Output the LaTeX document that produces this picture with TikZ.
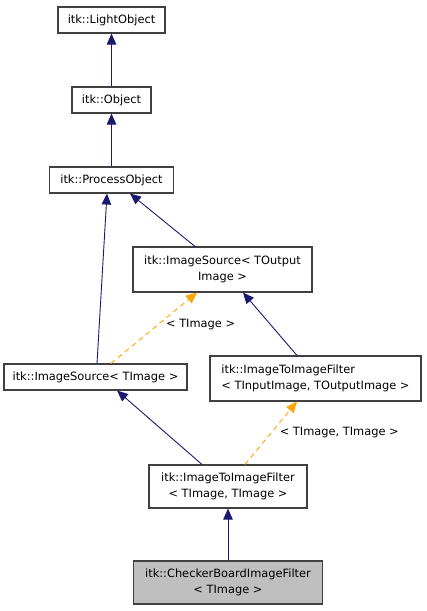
\documentclass[tikz,border=0pt]{standalone}
\usepackage{fontspec}
\setmainfont{DejaVu Sans}
\usetikzlibrary{arrows.meta}
\definecolor{edgeblue}{HTML}{191970}
\definecolor{tmplorange}{HTML}{FFA500}
\definecolor{boxgray}{HTML}{BFBFBF}

\begin{document}
\begin{tikzpicture}[x=1pt,y=-1pt,
  cls/.style={draw=black!75,line width=1.1pt,fill=white,inner sep=0pt,align=center,
    font=\fontsize{11.4}{16}\selectfont},
  inh/.style={edgeblue,line width=0.9pt,-{Triangle[length=11pt,width=9.5pt]}},
  tmpl/.style={tmplorange,line width=0.9pt,dash pattern=on 5pt off 4pt,-{Triangle[length=11pt,width=9.5pt]}},
  lbl/.style={text=black,font=\fontsize{11.4}{16}\selectfont}]
\useasboundingbox (0,0) rectangle (427,611);
\node[cls,minimum width=107pt,minimum height=26pt] (lo) at (111.5,20) {itk::LightObject};
\node[cls,minimum width=79pt,minimum height=26pt] (obj) at (111.5,100) {itk::Object};
\node[cls,minimum width=124pt,minimum height=26pt] (po) at (111.5,180) {itk::ProcessObject};
\node[cls,minimum width=179pt,minimum height=45pt] (isout) at (222.5,269.5) {itk::ImageSource< TOutput\\Image >};
\node[cls,minimum width=183pt,minimum height=26pt] (ist) at (95.5,377) {itk::ImageSource< TImage >};
\node[cls,minimum width=211pt,minimum height=45pt,align=left] (itito) at (315.5,378.5) {itk::ImageToImageFilter\\< TInputImage, TOutputImage >};
\node[cls,minimum width=158pt,minimum height=43pt] (itit) at (228,486.5) {itk::ImageToImageFilter\\< TImage, TImage >};
\node[cls,fill=boxgray,minimum width=189pt,minimum height=43pt] (cb) at (228,582.5) {itk::CheckerBoardImageFilter\\< TImage >};
\draw[inh] (obj.north) -- (lo.south);
\draw[inh] (po.north) -- (obj.south);
\draw[inh] ([xshift=1.5pt]ist.north) -- ([xshift=-4.5pt]po.south);
\draw[inh] ([xshift=-27.5pt]isout.north) -- ([xshift=18.5pt]po.south);
\draw[tmpl] ([xshift=15.5pt]ist.north) -- node[lbl,right,pos=0.55,xshift=4pt] {< TImage >} ([xshift=-25.5pt]isout.south);
\draw[inh] ([xshift=-18.5pt]itito.north) -- ([xshift=20.5pt]isout.south);
\draw[inh] ([xshift=-26pt]itit.north) -- ([xshift=21.5pt]ist.south);
\draw[tmpl] ([xshift=17pt]itit.north) -- node[lbl,right,pos=0.5,xshift=5pt] {< TImage, TImage >} ([xshift=-18.5pt]itito.south);
\draw[inh] (cb.north) -- (itit.south);
\end{tikzpicture}
\end{document}
